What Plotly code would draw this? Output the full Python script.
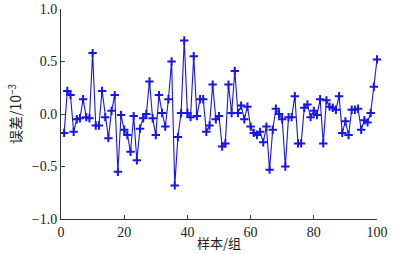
import plotly.graph_objects as go

samples = list(range(1, 101))
errors = [
    -0.18, 0.22, 0.18, -0.17, -0.05, -0.04, 0.14, -0.03, -0.04, 0.58,
    -0.11, -0.11, 0.22, -0.03, -0.23, 0.03, 0.18, -0.55, -0.01, -0.15,
    -0.20, -0.36, -0.02, -0.44, -0.14, -0.04, 0.00, 0.31, -0.04, -0.20,
    0.18, 0.01, -0.12, 0.14, 0.50, -0.68, -0.22, 0.01, 0.70, 0.01,
    -0.03, 0.55, -0.02, 0.14, 0.14, -0.17, -0.11, 0.28, -0.05, -0.02,
    -0.31, -0.28, 0.28, 0.01, 0.41, 0.01, 0.08, -0.05, 0.07, -0.12,
    -0.18, -0.20, -0.17, -0.27, -0.12, -0.53, -0.15, 0.05, 0.00, -0.05,
    -0.50, -0.03, -0.03, 0.17, -0.28, -0.28, 0.06, 0.09, -0.03, 0.03,
    -0.01, 0.14, -0.28, 0.13, 0.07, 0.06, 0.04, 0.17, -0.18, -0.07,
    -0.20, 0.04, 0.04, 0.05, -0.15, -0.06, -0.08, 0.01, 0.26, 0.52,
]
x_ticks = [0, 20, 40, 60, 80, 100]
y_ticks = [-1.0, -0.5, 0.0, 0.5, 1.0]
y_tick_text = ["\u22121.0", "\u22120.5", "0.0", "0.5", "1.0"]

fig = go.Figure()
fig.add_trace(go.Scatter(
    x=samples, y=errors, mode="lines+markers", cliponaxis=False,
    line=dict(color="#1515f0", width=1.1),
    marker=dict(symbol="cross-thin", size=6, line=dict(color="#1515f0", width=2)),
    showlegend=False,
))

font_serif = "Liberation Serif, Times New Roman, serif"
fig.update_layout(
    width=403, height=254,
    margin=dict(l=61, r=26, t=9, b=35),
    paper_bgcolor="white", plot_bgcolor="white",
    font=dict(family=font_serif, size=13, color="#222"),
)
fig.update_xaxes(
    range=[0, 100], tickvals=x_ticks, ticks="inside", ticklen=4, automargin=False,
    showline=True, linecolor="#333", linewidth=1, showgrid=False, zeroline=False,
    tickfont=dict(family=font_serif, size=14),
    title=dict(text="样本/组", font=dict(family="Noto Sans CJK SC", size=13), standoff=0),
)
fig.update_yaxes(
    range=[-1, 1], tickvals=y_ticks, ticktext=y_tick_text, ticks="inside", ticklen=4, automargin=False,
    showline=True, linecolor="#333", linewidth=1, showgrid=False, zeroline=False,
    tickfont=dict(family=font_serif, size=14),
    title=dict(text="误差/10<sup>\u22123</sup>", font=dict(family="Noto Sans CJK SC", size=14), standoff=6),
)
fig.write_html("out.html")
